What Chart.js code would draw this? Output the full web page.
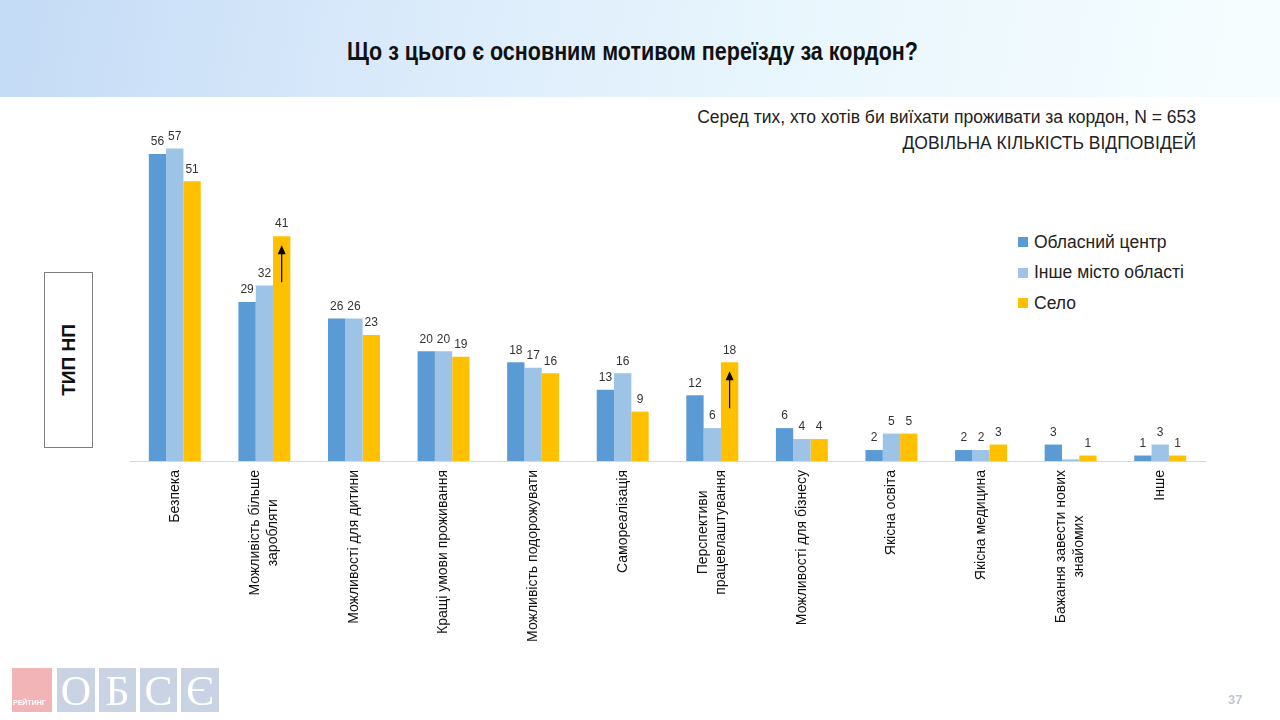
<!DOCTYPE html>
<html>
<head>
<meta charset="utf-8">
<script src="https://cdn.jsdelivr.net/npm/chart.js@4"></script>
<style>
  body { margin: 0; width: 1280px; height: 720px; position: relative; overflow: hidden; background: #fff; font-family: "Liberation Sans", Arial, sans-serif; }
  #head { position: absolute; left: 0; top: 0; width: 1280px; height: 97px; background: linear-gradient(100deg, #c4dbf6 0%, #dcecfb 35%, #eaf7fd 65%, #f6fdff 100%); }
  #title { position: absolute; left: 0; width: 1265px; top: 37px; text-align: center; font-weight: bold; font-size: 25px; color: #111; transform: scaleX(0.86); }
  #sub { position: absolute; right: 84px; top: 104px; text-align: right; font-size: 17.5px; line-height: 26px; color: #222; }
  #typ { position: absolute; left: 44px; top: 272px; width: 47px; height: 174px; border: 1px solid #7f7f7f; }
  #typ span { position: absolute; left: 50%; top: 50%; transform: translate(-50%, -50%) rotate(-90deg); font-weight: bold; font-size: 19px; white-space: nowrap; color: #111; }
  #legend { position: absolute; left: 1018px; top: 227px; font-size: 17.5px; color: #222; }
  #legend div { height: 30.5px; display: flex; align-items: center; }
  #legend i { display: inline-block; width: 10px; height: 10px; margin-right: 6px; }
  #chart { position: absolute; left: 0; top: 100px; }
  .lg { position: absolute; top: 668px; height: 44px; background: #c9d3e3; color: #fff; font-family: "Liberation Serif", serif; font-size: 42px; text-align: center; line-height: 46px; }
  #rt { position: absolute; left: 12px; top: 668px; width: 40px; height: 44px; background: #f3b4b8; color: #fff; font-size: 7px; font-weight: bold; }
  #rt span { position: absolute; bottom: 6px; left: 1px; }
  #pg { position: absolute; left: 1228px; top: 692px; font-size: 13px; color: #c0c6cf; font-weight: bold; }
</style>
</head>
<body>
<div id="head"></div>
<div id="title">Що з цього є основним мотивом переїзду за кордон?</div>
<div id="sub">Серед тих, хто хотів би виїхати проживати за кордон, N = 653<br>ДОВІЛЬНА КІЛЬКІСТЬ ВІДПОВІДЕЙ</div>
<div id="typ"><span>ТИП НП</span></div>
<div id="legend">
  <div><i style="background:#5b9bd5"></i>Обласний центр</div>
  <div><i style="background:#9dc3e6"></i>Інше місто області</div>
  <div><i style="background:#ffc000"></i>Село</div>
</div>
<canvas id="chart" width="1280" height="620"></canvas>
<div id="rt"><span>РЕЙТИНГ</span></div>
<div class="lg" style="left:57px;width:38px">О</div>
<div class="lg" style="left:99px;width:37px">Б</div>
<div class="lg" style="left:140px;width:37px">С</div>
<div class="lg" style="left:181px;width:38px">Є</div>
<div id="pg">37</div>
<script>
const categories = [
  'Безпека',
  ['Можливість більше', 'заробляти'],
  'Можливості для дитини',
  'Кращі умови проживання',
  'Можливість подорожувати',
  'Самореалізація',
  ['Перспективи', 'працевлаштування'],
  'Можливості для бізнесу',
  'Якісна освіта',
  'Якісна медицина',
  ['Бажання завести нових', 'знайомих'],
  'Інше'
];
const seriesNames = ['Обласний центр', 'Інше місто області', 'Село'];
const oblCentr = [56, 29, 26, 20, 18, 13, 12, 6, 2, 2, 3, 1];
const insheMisto = [57, 32, 26, 20, 17, 16, 6, 4, 5, 2, 0.3, 3];
const selo = [51, 41, 23, 19, 16, 9, 18, 4, 5, 3, 1, 1];
// стрілки "зростання" на стовпчиках Села
const arrowIdx = [1, 6];

const colors = ['#5b9bd5', '#9dc3e6', '#ffc000'];

const labelsPlugin = {
  id: 'barLabels',
  afterDatasetsDraw(chart) {
    const ctx = chart.ctx;
    ctx.save();
    ctx.font = '12px "Liberation Sans", Arial, sans-serif';
    ctx.fillStyle = '#333';
    ctx.textAlign = 'center';
    ctx.textBaseline = 'bottom';
    chart.data.datasets.forEach((ds, i) => {
      chart.getDatasetMeta(i).data.forEach((bar, j) => {
        const v = ds.data[j];
        if (v < 0.5) return;
        ctx.fillText(Math.round(v), bar.x, bar.y - 6);
      });
    });
    // arrows
    const meta = chart.getDatasetMeta(2);
    ctx.strokeStyle = '#000';
    ctx.fillStyle = '#000';
    ctx.lineWidth = 1.2;
    arrowIdx.forEach(j => {
      const bar = meta.data[j];
      const top = bar.y + 9, bottom = bar.y + 46;
      ctx.beginPath();
      ctx.moveTo(bar.x, bottom);
      ctx.lineTo(bar.x, top + 6);
      ctx.stroke();
      ctx.beginPath();
      ctx.moveTo(bar.x, top);
      ctx.lineTo(bar.x - 4, top + 9);
      ctx.lineTo(bar.x + 4, top + 9);
      ctx.closePath();
      ctx.fill();
    });
    ctx.restore();
  }
};

// вертикальні підписи категорій, багаторядкові центруються по тіку
const tickLabelsPlugin = {
  id: 'tickLabels',
  afterDraw(chart) {
    const ctx = chart.ctx;
    const xs = chart.scales.x;
    const lh = 18;
    ctx.save();
    ctx.font = '14px "Liberation Sans", Arial, sans-serif';
    ctx.fillStyle = '#111';
    ctx.textAlign = 'center';
    ctx.textBaseline = 'middle';
    categories.forEach((lab, i) => {
      const lines = Array.isArray(lab) ? lab : [lab];
      const maxW = Math.max(...lines.map(l => ctx.measureText(l).width));
      const x = xs.getPixelForTick(i);
      const y = xs.top + 9 + maxW / 2;
      lines.forEach((ln, k) => {
        const off = (k - (lines.length - 1) / 2) * lh;
        ctx.save();
        ctx.translate(x + off, y);
        ctx.rotate(-Math.PI / 2);
        ctx.fillText(ln, 0, 0);
        ctx.restore();
      });
    });
    ctx.restore();
  }
};

new Chart(document.getElementById('chart'), {
  type: 'bar',
  data: {
    labels: categories,
    datasets: [oblCentr, insheMisto, selo].map((d, i) => ({
      label: seriesNames[i],
      data: d,
      backgroundColor: colors[i],
      categoryPercentage: 0.58,
      barPercentage: 1.0
    }))
  },
  options: {
    responsive: false,
    animation: false,
    layout: { padding: { left: 130, right: 75, top: 32, bottom: 0 } },
    plugins: { legend: { display: false }, tooltip: { enabled: false } },
    scales: {
      x: {
        grid: { display: false },
        border: { color: '#d9d9d9', width: 1 },
        ticks: { display: false },
        afterFit(axis) { axis.height = 259; }
      },
      y: { display: false, min: 0, max: 60 }
    }
  },
  plugins: [labelsPlugin, tickLabelsPlugin]
});
</script>
</body>
</html>
